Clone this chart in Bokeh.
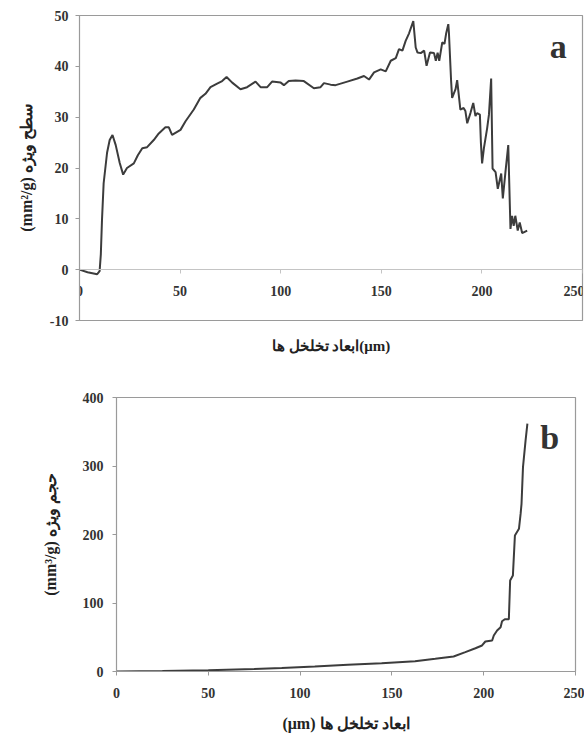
from bokeh.plotting import figure
from bokeh.models import Range1d, FixedTicker, Title, Label
from bokeh.embed import file_html
from bokeh.resources import INLINE

# ---- panel a: specific surface vs pore size ----
x_a = [0, 4, 8.8, 10, 10.6, 11.2, 12, 13.7, 15, 16.4, 18, 20, 21.7, 23.6, 27, 29, 31.2, 33.6,
       36.9, 39.4, 42.7, 44.4, 46, 50.2, 52.7, 56.8, 60.1, 62.6, 65.1, 68.4, 70.9, 73.1, 75.9,
       80, 83.3, 87.5, 90, 93.3, 95.7, 100, 101.6, 104, 107.4, 111.5, 116.5, 119.8, 121.5, 124.8,
       127.3, 133.1, 138.1, 141.4, 143.9, 146.4, 149.7, 152.2, 154.7, 157.2, 158.8, 160.5, 162.1,
       163.8, 165.9, 167.1, 168, 169.6, 171.3, 172.5, 174.2, 176.2, 177.1, 178, 178.8, 180.3,
       181.4, 182.2, 183.3, 183.6, 184.7, 185.2, 186.9, 187.7, 189.3, 190.9, 191.8, 192.7, 194.3,
       195.7, 196.8, 197.6, 199, 199.5, 200.1, 201, 202.6, 203.5, 204.6, 205.3, 206.8, 207.9,
       209.6, 210.4, 211.7, 213.1, 214.2, 215, 215.8, 216.6, 217.8, 218.8, 220, 222.5]
y_a = [0, -0.5, -0.9, -0.3, 3, 10, 17, 23, 25.5, 26.5, 24.5, 21, 18.7, 20, 20.9, 22.5, 23.9, 24.1,
       25.5, 26.8, 28, 28, 26.5, 27.5, 29.2, 31.5, 33.8, 34.6, 35.9, 36.6, 37.1, 37.9, 36.8,
       35.5, 35.9, 37, 35.9, 35.9, 37, 36.8, 36.3, 37.1, 37.2, 37.1, 35.7, 35.9, 36.7, 36.4,
       36.3, 37, 37.6, 38.1, 37.4, 38.8, 39.4, 39, 41.1, 41.6, 43.4, 43.1, 45,
       46.5, 48.9, 43.7, 42.7, 42.6, 43.1, 40.1, 42.7, 42.6, 41.1, 42.7, 41.1, 44.7,
       44.4, 46.4, 48.3, 46.7, 37.1, 33.8, 35.5, 37.3, 31.5, 31.8, 31.2, 28.8, 30.8,
       32.8, 30.2, 30.8, 30.5, 25, 20.9, 23.9, 27.8, 30.5, 37.6, 19.9, 19.2, 15.9,
       18.9, 14, 19.2, 24.5, 8, 10.6, 8.6, 10.6, 7.7, 9.3, 7.2, 7.7]

# ---- panel b: specific volume vs pore size ----
x_b = [0, 25, 50, 75, 90, 108, 126, 144.4, 162.6, 173.6, 183.6, 190, 195.5, 199.1, 200.9, 204.6,
       205.5, 207.3, 209.2, 210, 211.5, 213.7, 214.4, 215.9, 217, 219.2, 220.1, 220.6, 221.4,
       222.8, 223.8]
y_b = [0, 0.8, 2, 3.5, 5, 7.3, 10, 12.2, 15, 18.5, 21.9, 28.2, 34, 38, 43.8, 45.3,
       52.6, 59.9, 64.7, 73.4, 76.3, 76.3, 132.8, 140, 198.5, 208.3, 230, 244.8, 298.3,
       337, 362]

x_ticks = [0, 50, 100, 150, 200, 250]
y_ticks_a = [-10, 0, 10, 20, 30, 40, 50]
y_ticks_b = [0, 100, 200, 300, 400]

ylabel_a = "(mm²/g) سطح ویژه"
ylabel_b = "(mm³/g) حجم ویژه"
xlabel_a = "ابعاد تخلخل ها(μm)"
xlabel_b = "(μm) ابعاد تخلخل ها"

SERIF = "Liberation Serif"
LINE = "#3c3c3c"
FRAME = "#9a9a9a"


def style(p, yticks):
    p.xgrid.visible = False
    p.ygrid.visible = False
    p.outline_line_color = FRAME
    p.outline_line_width = 1.2
    for ax in (p.xaxis[0], p.yaxis[0]):
        ax.axis_line_color = FRAME
        ax.major_tick_line_color = FRAME
        ax.minor_tick_line_color = None
        ax.major_tick_in = 0
        ax.major_tick_out = 4
        ax.major_label_text_font = SERIF
        ax.major_label_text_font_style = "bold"
        ax.major_label_text_font_size = "14px"
        ax.major_label_text_color = "#333333"
        ax.axis_label_text_font = SERIF
        ax.axis_label_text_font_style = "bold"
        ax.axis_label_text_font_size = "16px"
        ax.axis_label_text_color = "#222222"
    p.xaxis[0].ticker = FixedTicker(ticks=x_ticks)
    p.yaxis[0].ticker = FixedTicker(ticks=yticks)
    p.yaxis[0].major_label_overrides = {t: str(t) for t in yticks}


# ---------- panel a ----------
pa = figure(width=584, height=368, title=None,
            x_range=Range1d(0, 250), y_range=Range1d(-10, 50),
            output_backend="svg", toolbar_location=None,
            min_border_left=79, min_border_right=2, min_border_top=15, min_border_bottom=44)
style(pa, y_ticks_a)
pa.xaxis[0].fixed_location = 0
pa.xaxis[0].axis_line_color = "#c4c4c4"
pa.xaxis[0].major_tick_line_color = "#c4c4c4"
pa.xaxis[0].major_label_standoff = 12
pa.yaxis[0].axis_label = ylabel_a
pa.yaxis[0].major_label_standoff = 7
pa.yaxis[0].axis_label_standoff = 12
pa.line(x_a, y_a, line_color=LINE, line_width=2)
pa.add_layout(Title(text=xlabel_a, align="center", text_font=SERIF, text_font_style="bold",
                    text_font_size="15px", text_color="#222222", standoff=30), "below")
pa.add_layout(Label(x=238, y=44, text="a", text_font=SERIF, text_font_style="bold",
                    text_font_size="34px", text_color="#333333",
                    text_align="center", text_baseline="middle"))

# ---------- panel b ----------
pb = figure(width=584, height=367, title=None,
            x_range=Range1d(0, 250), y_range=Range1d(0, 400),
            output_backend="svg", toolbar_location=None,
            min_border_left=116, min_border_right=9, min_border_top=29, min_border_bottom=64)
style(pb, y_ticks_b)
pb.xaxis[0].axis_label = xlabel_b
pb.xaxis[0].major_label_standoff = 12
pb.xaxis[0].axis_label_standoff = 14
pb.yaxis[0].axis_label = ylabel_b
pb.yaxis[0].major_label_standoff = 9
pb.yaxis[0].axis_label_standoff = 21
pb.line(x_b, y_b, line_color=LINE, line_width=2)
pb.add_layout(Label(x=236, y=341, text="b", text_font=SERIF, text_font_style="bold",
                    text_font_size="34px", text_color="#333333",
                    text_align="center", text_baseline="middle"))

open("out.html", "w").write(file_html([pa, pb], INLINE))
